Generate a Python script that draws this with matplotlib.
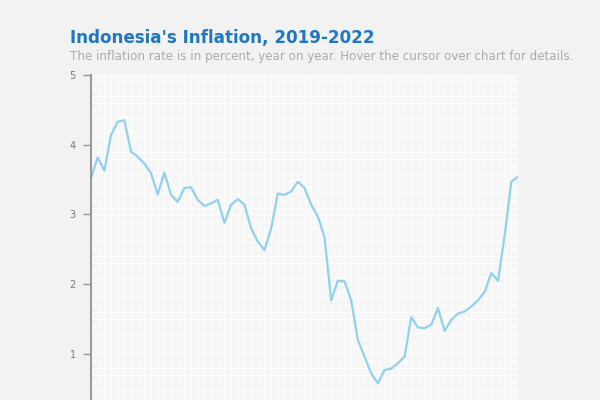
import numpy as np
import matplotlib
matplotlib.use("Agg")
import matplotlib.pyplot as plt
from matplotlib.ticker import MultipleLocator

# Monthly year-on-year inflation (%), Jan 2017 - May 2022
months = [f"{y}-{m:02d}" for y in range(2017, 2023) for m in range(1, 13)][:65]
inflation = [
    3.52, 3.82, 3.63, 4.14, 4.33, 4.35, 3.90, 3.83, 3.73, 3.59, 3.29, 3.60,
    3.28, 3.18, 3.38, 3.39, 3.21, 3.12, 3.16, 3.21, 2.88, 3.14, 3.22, 3.14,
    2.80, 2.61, 2.49, 2.80, 3.30, 3.28, 3.33, 3.47, 3.38, 3.14, 2.97, 2.68,
    1.77, 2.05, 2.04, 1.77, 1.20, 0.96, 0.72, 0.58, 0.77, 0.79, 0.87, 0.96,
    1.53, 1.38, 1.37, 1.42, 1.66, 1.33, 1.49, 1.58, 1.61, 1.68, 1.77, 1.89,
    2.16, 2.05, 2.70, 3.47, 3.54,
]
y_ticks = [1, 2, 3, 4, 5]

title = "Indonesia's Inflation, 2019-2022"
subtitle = "The inflation rate is in percent, year on year. Hover the cursor over chart for details."

bg = "#f2f2f2"
fig = plt.figure(figsize=(6, 4), dpi=100, facecolor=bg)
ax = fig.add_axes([91 / 600, 0.0, (518 - 91) / 600, 1 - 75 / 400])
ax.set_facecolor("#f6f6f6")

x = np.arange(len(inflation))
ax.plot(x, inflation, color="#8fd1ee", linewidth=1.6, solid_joinstyle="round")

ax.set_xlim(0, len(inflation) - 1)
ax.set_ylim(0.34, 5)

ax.set_yticks(y_ticks)
ax.set_yticklabels([str(t) for t in y_ticks])
ax.yaxis.set_minor_locator(MultipleLocator(0.1))
ax.xaxis.set_minor_locator(MultipleLocator(1))
ax.set_xticks([])
ax.grid(which="both", color="#ffffff", linewidth=0.7)
ax.set_axisbelow(True)
ax.tick_params(axis="y", which="major", length=6, width=1, color="#999999",
               labelcolor="#777777", labelsize=7, pad=5)
ax.tick_params(axis="both", which="minor", length=0)

for s in ["top", "right", "bottom"]:
    ax.spines[s].set_visible(False)
ax.spines["left"].set_color("#9a9a9a")
ax.spines["left"].set_linewidth(1.5)

fig.text(70 / 600, 1 - 43 / 400, title, fontsize=12.1, fontweight="bold",
         color="#1f77c4", family="DejaVu Sans", va="baseline", ha="left")
fig.text(70 / 600, 1 - 60 / 400, subtitle, fontsize=8.6, color="#ababab",
         family="DejaVu Sans", va="baseline", ha="left")

fig.savefig("out.png", dpi=100, facecolor=bg)
